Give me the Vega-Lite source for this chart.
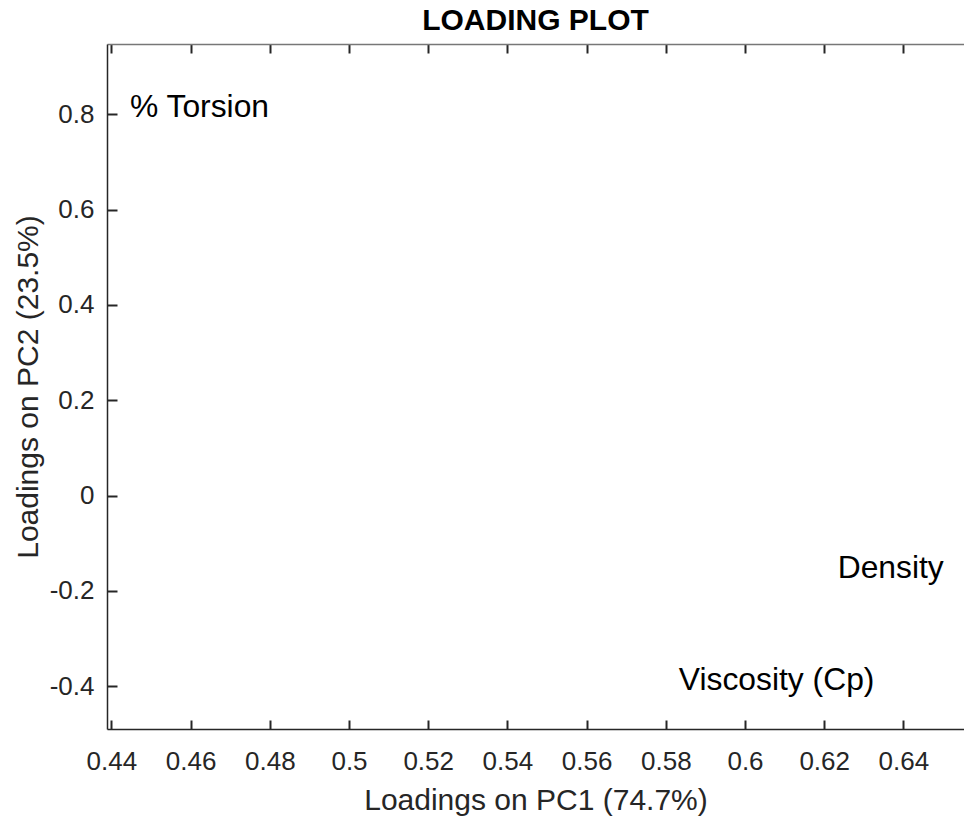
{
  "$schema": "https://vega.github.io/schema/vega-lite/v6.json",
  "width": 857,
  "height": 685,
  "autosize": {"type": "none"},
  "padding": {"left": 107, "top": 44, "right": 0, "bottom": 91},
  "background": "white",
  "config": {
    "view": {"stroke": null},
    "font": "Liberation Sans",
    "axis": {"grid": false}
  },
  "title": {
    "text": "LOADING PLOT",
    "font": "Liberation Sans",
    "fontSize": 30,
    "fontWeight": "bold",
    "color": "#000000",
    "anchor": "middle",
    "offset": 7
  },
  "data": {
    "values": [
      {"pc1": 0.4447, "pc2": 0.815, "label": "% Torsion"},
      {"pc1": 0.6234, "pc2": -0.152, "label": "Density"},
      {"pc1": 0.5833, "pc2": -0.386, "label": "Viscosity (Cp)"}
    ]
  },
  "layer": [
    {
      "mark": {"type": "text", "align": "left", "baseline": "middle", "fontSize": 31.8, "font": "Liberation Sans", "color": "#000000"},
      "encoding": {
        "x": {
          "field": "pc1", "type": "quantitative",
          "scale": {"domain": [0.43889, 0.6553], "nice": false, "zero": false},
          "axis": {
            "orient": "bottom",
            "title": "Loadings on PC1 (74.7%)",
            "titleFontSize": 30, "titleFontWeight": "normal", "titleColor": "#262626", "titlePadding": 11,
            "values": [0.44, 0.46, 0.48, 0.5, 0.52, 0.54, 0.56, 0.58, 0.6, 0.62, 0.64],
            "labelExpr": "toString(datum.value)",
            "labelFontSize": 26, "labelColor": "#262626", "labelPadding": 28,
            "tickSize": -9, "tickWidth": 2, "tickColor": "#262626",
            "domainColor": "#262626", "domainWidth": 1.5
          }
        },
        "y": {
          "field": "pc2", "type": "quantitative",
          "scale": {"domain": [-0.4898, 0.9473], "nice": false, "zero": false},
          "axis": {
            "title": "Loadings on PC2 (23.5%)",
            "titleFontSize": 30, "titleFontWeight": "normal", "titleColor": "#262626", "titlePadding": 6,
            "values": [-0.4, -0.2, 0, 0.2, 0.4, 0.6, 0.8],
            "labelExpr": "toString(datum.value)",
            "labelFontSize": 26, "labelColor": "#262626", "labelPadding": 23,
            "tickSize": -10, "tickWidth": 2, "tickColor": "#262626",
            "domainColor": "#262626", "domainWidth": 1.5
          }
        },
        "text": {"field": "label", "type": "nominal"}
      }
    },
    {
      "mark": {"type": "point", "opacity": 0},
      "encoding": {
        "x": {
          "field": "pc1", "type": "quantitative",
          "axis": {
            "orient": "top",
            "title": null,
            "labels": false,
            "values": [0.44, 0.46, 0.48, 0.5, 0.52, 0.54, 0.56, 0.58, 0.6, 0.62, 0.64],
            "tickSize": -9, "tickWidth": 2, "tickColor": "#262626",
            "domainColor": "#777777", "domainWidth": 1.5
          }
        }
      }
    }
  ],
  "resolve": {"axis": {"x": "independent"}}
}
